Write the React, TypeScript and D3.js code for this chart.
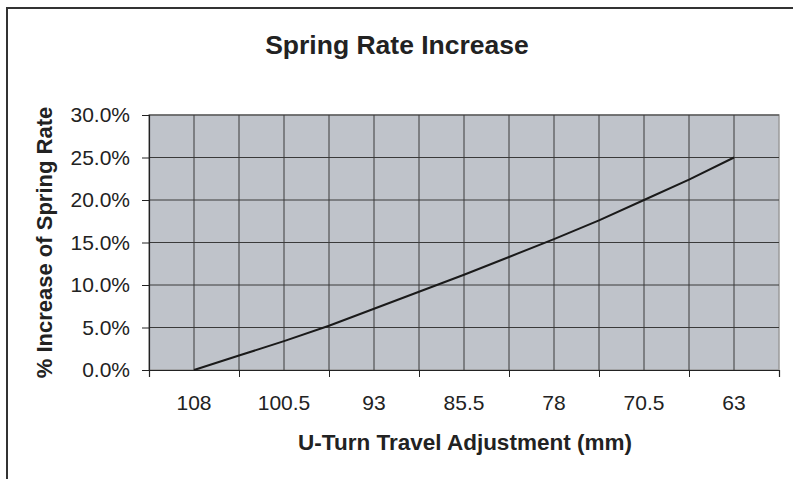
import { useEffect, useRef } from 'react'
import * as d3 from 'd3'

// travel adjustment (mm), one point every 3.75 mm
const travel = [108, 104.25, 100.5, 96.75, 93, 89.25, 85.5, 81.75, 78, 74.25, 70.5, 66.75, 63]
// spring rate increase (%)
const increase = [0, 1.7, 3.4, 5.2, 7.2, 9.2, 11.2, 13.3, 15.4, 17.6, 20.0, 22.4, 25.0]
const xLabels = [108, 100.5, 93, 85.5, 78, 70.5, 63]
const yTicks = [0, 5, 10, 15, 20, 25, 30]

const App = () => {
  const svgRef = useRef<SVGSVGElement>(null)

  useEffect(() => {
    const W = 793
    const H = 479
    const plot = { left: 149, right: 779, top: 115, bottom: 370 }
    const font = 'Liberation Sans, Arial, sans-serif'

    const root = d3.select(svgRef.current)
    root.selectAll('*').remove()
    root.attr('width', W).attr('height', H)

    root.append('rect').attr('width', W).attr('height', H).attr('fill', '#fff')

    // frame (only top and left edges visible in the crop)
    root.append('path')
      .attr('d', `M7,${H} V8 H${W}`)
      .attr('fill', 'none')
      .attr('stroke', '#333')
      .attr('stroke-width', 2)

    const step = 3.75
    const x = d3.scaleLinear()
      .domain([travel[0] + step, travel[travel.length - 1] - step])
      .range([plot.left, plot.right])

    const y = d3.scaleLinear()
      .domain([0, 30])
      .range([plot.bottom, plot.top])

    root.append('rect')
      .attr('x', plot.left)
      .attr('y', plot.top)
      .attr('width', plot.right - plot.left)
      .attr('height', plot.bottom - plot.top)
      .attr('fill', '#bfc3ca')
      .attr('stroke', '#9a9a9a')
      .attr('stroke-width', 1.5)

    // vertical gridlines at every category
    const gridX = d3.range(0, travel.length + 2).map(i => travel[0] + step - i * step)
    root.append('g')
      .selectAll('line')
      .data(gridX.slice(1, -1))
      .enter()
      .append('line')
      .attr('x1', d => x(d))
      .attr('x2', d => x(d))
      .attr('y1', plot.top)
      .attr('y2', plot.bottom)
      .attr('stroke', '#3a3a3a')
      .attr('stroke-width', 1)

    root.append('g')
      .selectAll('line')
      .data(yTicks.slice(1))
      .enter()
      .append('line')
      .attr('x1', plot.left)
      .attr('x2', plot.right)
      .attr('y1', d => y(d))
      .attr('y2', d => y(d))
      .attr('stroke', '#3a3a3a')
      .attr('stroke-width', 1)

    // y axis
    const yAxis = root.append('g')
      .attr('transform', `translate(${plot.left},0)`)
      .call(d3.axisLeft(y).tickValues(yTicks).tickSize(7).tickPadding(12).tickFormat(d => `${(+d).toFixed(1)}%`))
    yAxis.select('.domain').attr('stroke', '#222').attr('stroke-width', 1.2)
    yAxis.selectAll('.tick line').attr('stroke', '#222')
    yAxis.selectAll('text')
      .attr('font-family', font)
      .attr('font-size', 21)
      .attr('fill', '#222')

    // x axis: tick marks every two categories, labels in between
    const tickX = gridX.filter((_, i) => i % 2 === 0)
    const xAxis = root.append('g')
      .attr('transform', `translate(0,${plot.bottom})`)
      .call(d3.axisBottom(x).tickValues(tickX).tickSize(7).tickFormat(() => ''))
    xAxis.select('.domain').attr('stroke', '#222').attr('stroke-width', 1.2)
    xAxis.selectAll('.tick line').attr('stroke', '#222')

    root.append('g')
      .selectAll('text')
      .data(xLabels)
      .enter()
      .append('text')
      .attr('x', d => x(d))
      .attr('y', 410)
      .attr('text-anchor', 'middle')
      .attr('font-family', font)
      .attr('font-size', 21)
      .attr('fill', '#222')
      .text(d => d)

    const line = d3.line<number>()
      .x((_, i) => x(travel[i]))
      .y(d => y(d))

    root.append('path')
      .datum(increase)
      .attr('fill', 'none')
      .attr('stroke', '#1a1a1a')
      .attr('stroke-width', 2)
      .attr('d', line)

    root.append('text')
      .attr('x', 397)
      .attr('y', 54)
      .attr('text-anchor', 'middle')
      .attr('font-family', font)
      .attr('font-weight', 'bold')
      .attr('font-size', 26.5)
      .attr('fill', '#222')
      .text('Spring Rate Increase')

    root.append('text')
      .attr('x', 465)
      .attr('y', 450)
      .attr('text-anchor', 'middle')
      .attr('font-family', font)
      .attr('font-weight', 'bold')
      .attr('font-size', 22.5)
      .attr('fill', '#222')
      .text('U-Turn Travel Adjustment (mm)')

    root.append('text')
      .attr('transform', `translate(52,${(plot.top + plot.bottom) / 2}) rotate(-90)`)
      .attr('text-anchor', 'middle')
      .attr('font-family', font)
      .attr('font-weight', 'bold')
      .attr('font-size', 22)
      .attr('fill', '#222')
      .text('% Increase of Spring Rate')
  }, [])

  return <svg ref={svgRef} style={{ position: 'absolute', left: 0, top: 0 }}></svg>
}

export default App
